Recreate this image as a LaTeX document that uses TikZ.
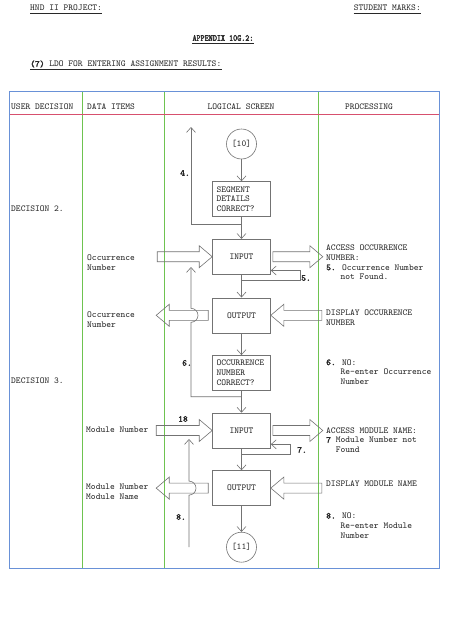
\documentclass[tikz,border=0pt]{standalone}
\usepackage{fontspec}
\usepackage{graphicx}
\usepackage{xcolor}
\usetikzlibrary{arrows.meta}
\usetikzlibrary{positioning}
\usetikzlibrary{calc}

\newfontface\ttbold{lmmono10-regular.otf}[FakeBold=2.5]
\definecolor{tblblue}{RGB}{105,145,215}
\definecolor{tblgreen}{RGB}{110,195,80}
\definecolor{tblred}{RGB}{215,80,110}
\definecolor{pencil}{RGB}{115,115,115}
\definecolor{ink}{RGB}{40,40,40}

\newcommand{\indt}{\hphantom{000}}
% hollow block arrow, horizontal, from #1 to tip #2
\newcommand{\fatarrow}[2]{%
  \draw[fat] let \p1=(#1), \p2=(#2), \n2={\x2-13pt*sign(\x2-\x1)} in
    (\x1,\y1+5pt) -- (\n2,\y1+5pt) -- (\n2,\y1+11pt) -- (\x2,\y1)
    -- (\n2,\y1-11pt) -- (\n2,\y1-5pt) -- (\x1,\y1-5pt) -- cycle;}
% line under a heading node
\newcommand{\uline}[1]{%
  \draw[ink, line width=0.5pt] ([yshift=-2.5pt]#1.base west) -- ([yshift=-2.5pt]#1.base east);}

\begin{document}
\begin{tikzpicture}[x=1pt, y=-1pt,
    font=\ttfamily\fontsize{9.1}{9.7}\selectfont, text=ink,
    box/.style={draw=pencil, line width=0.6pt, minimum width=58pt, minimum height=35pt, inner sep=3pt},
    ask/.style={box, text width=50pt, align=left, inner sep=4pt},
    conn/.style={circle, draw=pencil, line width=0.6pt, minimum size=30pt, inner sep=0pt},
    flow/.style={pencil, line width=0.6pt, -{Straight Barb[length=5pt,width=9pt]}},
    fat/.style={pencil, line width=0.6pt, line join=miter},
    txt/.style={anchor=west, align=left, inner sep=0pt},
    num/.style={font=\ttbold\fontsize{9.1}{9.7}\selectfont, inner sep=0pt}]
  \path[fill=white] (0,0) rectangle (451,640);

  % page heading
  \node[txt] (hd1) at (30,8) {HND II PROJECT:};
  \node[anchor=east, inner sep=0pt] (hd2) at (421,8) {STUDENT MARKS:};
  \node[inner sep=0pt] (hd3) at (223,38) {\scalebox{0.85}[1]{\ttbold APPENDIX 10G.2:}};
  \node[txt] (hd4) at (30,64) {{\ttbold (7)} LDO FOR ENTERING ASSIGNMENT RESULTS:};
  \foreach \h in {hd1,hd2,hd3,hd4} {\uline{\h}}

  % table
  \foreach \cx in {82,164,318}
    \draw[tblgreen, line width=0.8pt] (\cx,91) -- (\cx,568);
  \draw[tblred, line width=0.7pt] (9,114) -- (439,114);
  \draw[tblblue, line width=0.8pt] (9,91) rectangle (439,568);
  \node[txt] (col1) at (11,107) {USER DECISION};
  \node[txt] (col2) at (87,107) {DATA ITEMS};
  \node (col3) at (241,107) {LOGICAL SCREEN};
  \node (col4) at (369,107) {PROCESSING};

  % logical screen
  \node[conn] (c10) at (241.5,144) {[10]};
  \node[ask, below=22pt of c10] (q1) {SEGMENT\\DETAILS\\CORRECT?};
  \node[box, below=22pt of q1] (in1) {INPUT};
  \node[box, below=23pt of in1] (out1) {OUTPUT};
  \node[ask, below=22pt of out1] (q2) {OCCURRENCE\\NUMBER\\CORRECT?};
  \node[box, below=22pt of q2] (in2) {INPUT};
  \node[box, below=22pt of in2] (out2) {OUTPUT};
  \node[conn, below=26pt of out2] (c11) {[11]};

  \draw[flow] (c10) -- (q1);
  \draw[flow] (q1) -- (in1);
  \draw[flow] (in1) -- (out1);
  \draw[flow] (out1) -- (q2);
  \draw[flow] (q2) -- (in2);
  \draw[flow] (in2) -- (out2);
  \draw[flow] (out2) -- (c11);

  \coordinate (j1) at ([yshift=-7pt]q1.south);
  \coordinate (top4) at (191,127);
  \draw[flow] (j1) -| (top4);
  \node[num, anchor=east] (n4) at (190,173) {4.};

  \coordinate (j2) at ([yshift=-6pt]in1.south);
  \coordinate (k5) at ([yshift=4pt]in1.south east);
  \draw[flow] (j2) -- ++(58.5,0) |- (k5);
  \node[num] (n5) at (306,278) {5.};

  \coordinate (j3) at ([yshift=-6pt]q2.south);
  \coordinate (top6) at (191,267);
  \draw[flow] (j3) -| ($(out1.west -| top6)+(0,-7pt)$)
    arc[start angle=-90, end angle=90, radius=7pt] -- (top6);
  \node[num, anchor=east] (n6) at (192,363) {6.};

  \coordinate (j4) at ([yshift=-6pt]in2.south);
  \coordinate (k7) at ([yshift=4pt]in2.south east);
  \draw[flow] (j4) -- ++(49,0) |- (k7);
  \node[num] (n7) at (302,450) {7.};

  \coordinate (bot8) at (189,547);
  \coordinate (top8) at (189,439);
  \draw[flow] (bot8) -- ($(out2.west -| bot8)+(0,-7pt)$)
    arc[start angle=-90, end angle=90, radius=7pt] -- (top8);
  \node[num] (n8) at (181,517) {8.};
  \node[num] (n18) at (183,419) {18};

  % block arrows
  \coordinate (d1) at ([xshift=-55pt]in1.west);
  \fatarrow{d1}{in1.west}
  \coordinate (p1) at ([xshift=52pt]in1.east);
  \fatarrow{[xshift=2pt]in1.east}{p1}
  \coordinate (d2) at ([xshift=-56pt]out1.west);
  \fatarrow{[xshift=-4pt]out1.west}{d2}
  \coordinate (p2) at ([xshift=51pt]out1.east);
  \fatarrow{p2}{out1.east}
  \coordinate (d3) at ([xshift=-56pt]in2.west);
  \fatarrow{d3}{in2.west}
  \coordinate (p3) at ([xshift=52pt]in2.east);
  \fatarrow{[xshift=2pt]in2.east}{p3}
  \coordinate (d4) at ([xshift=-56pt]out2.west);
  \fatarrow{[xshift=-4pt]out2.west}{d4}
  \coordinate (p4) at ([xshift=51pt]out2.east);
  \fatarrow{p4}{out2.east}

  % user decision
  \node[txt] (u2) at (11,209) {DECISION 2.};
  \node[txt] (u3) at (11,381) {DECISION 3.};

  % data items
  \node[txt] (di1) at (87,263) {Occurrence\\Number};
  \node[txt] (di2) at (87,319.5) {Occurrence\\Number};
  \node[txt] (di3) at (86,430) {Module Number};
  \node[txt] (di4) at (86,492) {Module Number\\Module Name};

  % processing
  \node[txt] (pr1) at (326,262.5) {ACCESS OCCURRENCE\\NUMBER:\\{\ttbold 5.} Occurrence Number\\\indt not Found.};
  \node[txt] (pr2) at (326,318) {DISPLAY OCCURRENCE\\NUMBER};
  \node[txt] (pr3) at (326,372) {{\ttbold 6.} NO:\\\indt Re-enter Occurrence\\\indt Number};
  \node[txt] (pr4) at (326,440) {ACCESS MODULE NAME:\\{\ttbold 7} Module Number not\\\hphantom{00}Found};
  \node[txt] (pr5) at (326,484) {DISPLAY MODULE NAME};
  \node[txt] (pr6) at (326,525.5) {{\ttbold 8.} NO:\\\indt Re-enter Module\\\indt Number};
\end{tikzpicture}
\end{document}
